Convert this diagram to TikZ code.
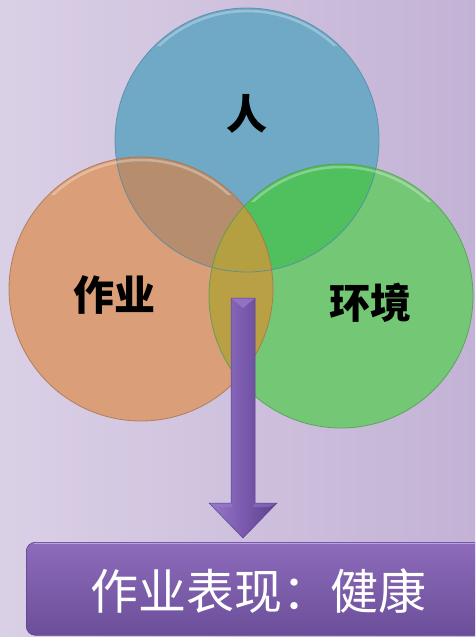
\documentclass[tikz,border=0pt]{standalone}
\usepackage{fontspec}
\newfontfamily\cjk{Noto Sans CJK SC}
\usetikzlibrary{calc}
\definecolor{bgL}{HTML}{DAD0E6}
\definecolor{bgR}{HTML}{C3B2D5}
\definecolor{cblue}{HTML}{6FA9C6}
\definecolor{cblueD}{HTML}{4F8AA8}
\definecolor{corange}{HTML}{DA9E78}
\definecolor{corangeD}{HTML}{A8724E}
\definecolor{cgreen}{HTML}{74C774}
\definecolor{cgreenD}{HTML}{4E9E50}
\definecolor{cBO}{HTML}{B68D6D}
\definecolor{cBG}{HTML}{50BF5E}
\definecolor{cOG}{HTML}{B9A045}
\definecolor{cBOG}{HTML}{B4A040}
\definecolor{pL}{HTML}{9878C8}
\definecolor{pM}{HTML}{7A5AAD}
\definecolor{pD}{HTML}{5C4290}
\definecolor{pTop}{HTML}{8D6CBB}
\definecolor{pBot}{HTML}{6B4E99}
\definecolor{pEdge}{HTML}{BC9EEA}
\begin{document}
\begin{tikzpicture}[x=1pt,y=-1pt,
  circ/.style={circle,minimum size=264pt,inner sep=0pt},
  lbl/.style={font=\cjk\bfseries\fontsize{41}{41}\selectfont,text=black,inner sep=0pt},
  restext/.style={font=\cjk\fontsize{48}{48}\selectfont,text=white,inner sep=0pt}]
\useasboundingbox (0,0) rectangle (475,637);
\clip (0,0) rectangle (475,637);
\shade[left color=bgL,right color=bgR] (0,0) rectangle (475,637);
% circles
\node[circ,fill=cblue] (person) at (247,140) {};
\node[circ,fill=corange] (task) at (141,289) {};
\node[circ,fill=cgreen] (env) at (341,296) {};
% overlaps
\begin{scope}
  \clip (person.center) circle (132pt);
  \fill[cBO] (task.center) circle (132pt);
  \fill[cBG] (env.center) circle (132pt);
\end{scope}
\begin{scope}
  \clip (task.center) circle (132pt);
  \fill[cOG] (env.center) circle (132pt);
  \clip (env.center) circle (132pt);
  \fill[cBOG] (person.center) circle (132pt);
\end{scope}
% highlights and outlines
\foreach \n/\c in {person/cblueD,task/corangeD,env/cgreenD}{
  \begin{scope}
    \clip ($(\n.center)+(-132,-132)$) rectangle ($(\n.center)+(132,-95)$);
    \draw[white,opacity=0.3,line width=2.5pt] (\n.center) circle (129pt);
  \end{scope}
  \draw[\c,line width=0.8pt,opacity=0.8] (\n.center) circle (132pt);
}
% labels
\node[lbl] (lperson) at (247,114) {人};
\node[lbl] (ltask) at (114,295) {作业};
\node[lbl] (lenv) at (370,303) {环境};
% result box
\node[rounded corners=9pt,minimum width=480pt,minimum height=93pt,anchor=north west,
      top color=pTop,bottom color=pBot,draw=pD,line width=0.6pt] (result) at (26,542) {};
\draw[pEdge,line width=1.6pt] ($(result.north west)+(8,1.5)$) -- ($(result.north east)+(-8,1.5)$);
\node[restext] (rtext) at (258,591) {作业表现：健康};
% arrow
\coordinate (atop) at (243,298);
\coordinate (atip) at ($(result.north west)+(217,-4)$);
\shade[left color=pL,right color=pD,middle color=pM]
  ($(atop)+(-12,0)$) -- ($(atop)+(12,0)$) -- ($(atip)+(12,-35)$) -- ($(atip)+(34,-35)$)
  -- (atip) -- ($(atip)+(-34,-35)$) -- ($(atip)+(-12,-35)$) -- cycle;
\fill[pL,opacity=0.8] ($(atop)+(-12,0)$) -- ($(atop)+(12,0)$) -- ($(atop)+(0,10)$) -- cycle;
\fill[pL,opacity=0.7] ($(atip)+(-34,-35)$) -- ($(atip)+(-12,-35)$) -- ($(atip)+(-10,-31)$) -- ($(atip)+(-26,-31)$) -- cycle;
\fill[pL,opacity=0.5] ($(atip)+(34,-35)$) -- ($(atip)+(12,-35)$) -- ($(atip)+(10,-31)$) -- ($(atip)+(26,-31)$) -- cycle;
\draw[pD,line width=0.5pt]
  ($(atop)+(-12,0)$) -- ($(atop)+(12,0)$) -- ($(atip)+(12,-35)$) -- ($(atip)+(34,-35)$)
  -- (atip) -- ($(atip)+(-34,-35)$) -- ($(atip)+(-12,-35)$) -- cycle;
\end{tikzpicture}
\end{document}
